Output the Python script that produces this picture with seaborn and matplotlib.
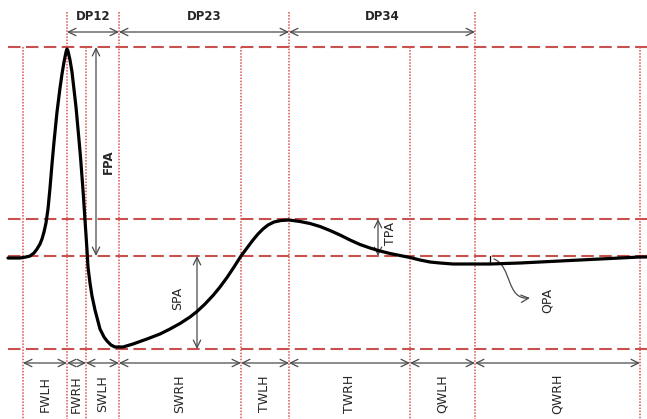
import numpy as np
import pandas as pd
import matplotlib
matplotlib.use("Agg")
import matplotlib.pyplot as plt
from matplotlib.patches import FancyArrowPatch
from matplotlib.path import Path
import seaborn as sns

# waveform (time in samples, amplitude relative to baseline)
t = [8, 20, 26, 30, 34, 37, 40, 42, 44, 46, 48, 50, 52, 54, 57, 60, 62, 64, 66, 67,
     68, 70, 72, 76, 79, 80.5, 83, 85, 87, 88, 90, 92, 95, 100, 104, 107, 111, 115,
     123, 133, 147, 160, 170, 180, 190, 197, 205, 213, 220, 227, 234, 241, 247, 253, 258, 263,
     268, 274, 281, 289, 300, 310, 320, 330, 340, 350, 360, 370, 380, 390, 400, 410,
     420, 430, 440, 453, 470, 490, 520, 560, 600, 640, 647]
amp = [-2, -2, -1, 0, 3, 7, 12, 17, 24, 33, 47, 68, 92, 114, 144, 168, 182, 194, 204, 207,
       205, 196, 184, 149, 116, 99, 66, 36, 6, -11, -27, -40, -54, -73, -81, -85, -89, -91,
       -91, -88, -83, -78, -73, -67.5, -61, -55.5, -48, -39.5, -31, -21.5, -11, 0, 8, 16, 22, 27,
       31, 34, 35.5, 36, 34.5, 32.5, 29.5, 25.5, 21, 16, 11.5, 8, 5, 2.5, 0.5, -1.5,
       -4, -6, -7, -8, -8, -8, -7, -5, -3, -1, -1]

# fiducial points
mark_t = [23, 67, 86, 119, 241, 289, 410, 475, 640]
long_marks = [67, 119, 289, 475]
levels = [209, 37, 0, -93]  # first peak, third peak, baseline, second peak

width_labels = ["FWLH", "FWRH", "SWLH", "SWRH", "TWLH", "TWRH", "QWLH", "QWRH"]
dp_labels = ["DP12", "DP23", "DP34"]
dp_bounds = [67, 119, 289, 475]

fpa_t, spa_t, tpa_t, qpa_t = 96, 197, 378, 490
qpa_level = -8

red_dash = "#c8504e"
red_dot = "#d9534f"
grey = "#4a4a4a"

sns.set_style("white")
plt.rcParams["font.family"] = ["DejaVu Sans"]

fig = plt.figure(figsize=(6.47, 4.19), dpi=100)
ax = fig.add_axes([0, 0, 1, 1])
ax.set_xlim(0, 647)
ax.set_ylim(-163, 256)
ax.axis("off")

# horizontal reference levels
for lv in levels:
    ax.plot([8, 647], [lv, lv], color=red_dash, lw=1.5, ls=(0, (6, 2.6)), zorder=1)

# vertical fiducial lines
for m in mark_t:
    top = 244 if m in long_marks else 209
    ax.plot([m, m], [top, -163], color=red_dot, lw=1.1, ls=(0, (1, 1)), zorder=1)

df = pd.DataFrame({"t": t, "amp": amp})
sns.lineplot(data=df, x="t", y="amp", sort=False, estimator=None,
             color="black", lw=2.3, ax=ax, zorder=3)
ax.lines[-1].set_solid_joinstyle("round")


def dbl_arrow(x0, y0, x1, y1):
    ax.annotate("", xy=(x1, y1), xytext=(x0, y0),
                arrowprops=dict(arrowstyle="<->,head_length=0.45,head_width=0.22",
                                color=grey, lw=0.9, shrinkA=0, shrinkB=0,
                                mutation_scale=12), zorder=2)


# top: peak distances
for i, lab in enumerate(dp_labels):
    a, b = dp_bounds[i], dp_bounds[i + 1]
    dbl_arrow(a, 224, b, 224)
    ax.text((a + b) / 2, 239, lab, ha="center", va="center",
            fontsize=8.5, fontweight="bold")

# bottom: widths
for i, lab in enumerate(width_labels):
    a, b = mark_t[i], mark_t[i + 1]
    dbl_arrow(a, -107, b, -107)
    ax.text((a + b) / 2, -138, lab, ha="center", va="center", rotation=90,
            fontsize=9)

# amplitudes
dbl_arrow(fpa_t, levels[0], fpa_t, levels[2])
ax.text(fpa_t + 12, 94, "FPA", rotation=90, ha="center", va="center",
        fontsize=8.5, fontweight="bold")
dbl_arrow(spa_t, levels[2], spa_t, levels[3])
ax.text(spa_t - 19, -42, "SPA", rotation=90, ha="center", va="center", fontsize=9)
dbl_arrow(tpa_t, levels[1], tpa_t, levels[2])
ax.text(tpa_t + 12, 23, "TPA", rotation=90, ha="center", va="center", fontsize=9)

# QPA marker and curved pointer
ax.plot([qpa_t, qpa_t], [0, qpa_level], color="black", lw=0.9, zorder=2)
verts = [(qpa_t + 4, -3), (qpa_t + 22, -10), (qpa_t + 16, -44), (qpa_t + 40, -42)]
path = Path(verts, [Path.MOVETO, Path.CURVE4, Path.CURVE4, Path.CURVE4])
ax.add_patch(FancyArrowPatch(path=path, arrowstyle="->,head_length=0.45,head_width=0.22",
                             mutation_scale=12, color=grey, lw=0.9))
ax.text(547, -44, "QPA", rotation=90, ha="center", va="center", fontsize=9)

fig.savefig("out.png", dpi=100)
